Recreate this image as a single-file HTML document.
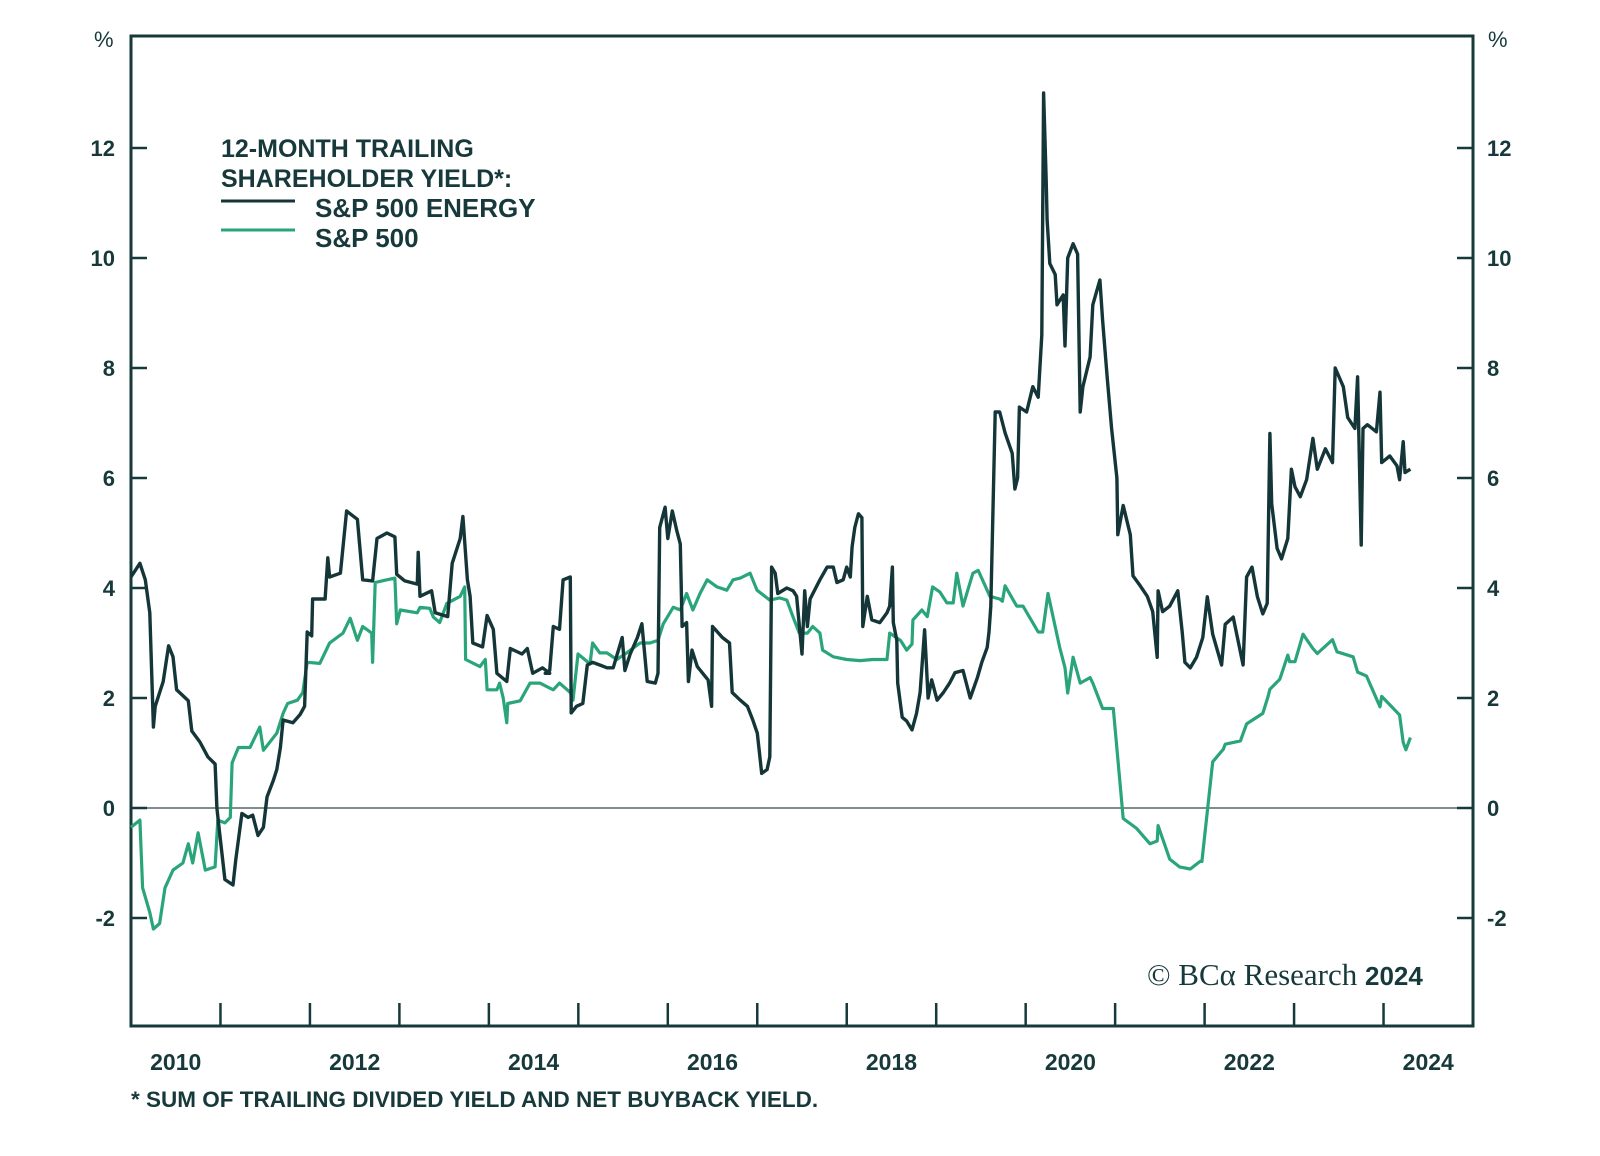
<!DOCTYPE html>
<html><head><meta charset="utf-8"><style>
html,body{margin:0;padding:0;background:#fff;}
svg{display:block;}
text{font-family:"Liberation Sans",sans-serif;fill:#17393b;}
</style></head><body>
<svg id="chart" width="1600" height="1156" viewBox="0 0 1600 1156">
<g id="axes"></g>
<g id="series"></g>
<g>
<text x="221" y="157" font-size="25" font-weight="bold">12-MONTH TRAILING</text>
<text x="221" y="187" font-size="25" font-weight="bold">SHAREHOLDER YIELD*:</text>
<line x1="221" y1="201" x2="295" y2="201" stroke="#153638" stroke-width="3"/>
<text x="315" y="217" font-size="26" font-weight="bold">S&amp;P 500 ENERGY</text>
<line x1="221" y1="230" x2="295" y2="230" stroke="#2aa57a" stroke-width="3"/>
<text x="315" y="247" font-size="26" font-weight="bold">S&amp;P 500</text>
</g>
<text x="1147" y="985" font-size="31" style="font-family:'Liberation Serif',serif">© BCα Research <tspan style="font-family:'Liberation Sans',sans-serif" font-weight="bold" font-size="26">2024</tspan></text>
<text x="131" y="1107" font-size="22.5" font-weight="bold">* SUM OF TRAILING DIVIDED YIELD AND NET BUYBACK YIELD.</text>
</svg>
<script>
const energyDates=[2010.0,2010.10,2010.16,2010.21,2010.25,2010.27,2010.36,2010.42,2010.47,2010.51,2010.64,2010.68,2010.77,2010.86,2010.94,2010.96,2010.99,2011.05,2011.14,2011.17,2011.24,2011.31,2011.36,2011.42,2011.48,2011.52,2011.59,2011.63,2011.67,2011.70,2011.81,2011.89,2011.94,2011.97,2012.02,2012.03,2012.17,2012.20,2012.22,2012.34,2012.41,2012.45,2012.53,2012.59,2012.70,2012.75,2012.86,2012.95,2012.97,2013.06,2013.20,2013.21,2013.23,2013.36,2013.40,2013.54,2013.59,2013.68,2013.71,2013.76,2013.79,2013.82,2013.93,2013.98,2014.05,2014.09,2014.20,2014.24,2014.37,2014.43,2014.49,2014.60,2014.68,2014.63,2014.68,2014.72,2014.79,2014.83,2014.91,2014.92,2014.98,2015.05,2015.10,2015.16,2015.24,2015.32,2015.39,2015.49,2015.52,2015.58,2015.66,2015.71,2015.77,2015.86,2015.89,2015.91,2015.97,2016.00,2016.05,2016.10,2016.14,2016.16,2016.21,2016.23,2016.27,2016.33,2016.39,2016.45,2016.49,2016.50,2016.61,2016.69,2016.72,2016.81,2016.89,2016.95,2017.00,2017.05,2017.11,2017.14,2017.16,2017.20,2017.23,2017.33,2017.40,2017.44,2017.50,2017.53,2017.56,2017.59,2017.70,2017.78,2017.85,2017.89,2017.96,2018.00,2018.04,2018.06,2018.09,2018.13,2018.17,2018.18,2018.23,2018.28,2018.37,2018.45,2018.48,2018.51,2018.52,2018.56,2018.57,2018.62,2018.67,2018.73,2018.78,2018.82,2018.87,2018.91,2018.95,2019.01,2019.08,2019.15,2019.21,2019.30,2019.38,2019.46,2019.51,2019.57,2019.59,2019.61,2019.66,2019.71,2019.77,2019.85,2019.88,2019.91,2019.93,2020.01,2020.08,2020.14,2020.18,2020.20,2020.23,2020.24,2020.27,2020.33,2020.35,2020.42,2020.44,2020.47,2020.53,2020.58,2020.61,2020.64,2020.72,2020.75,2020.83,2020.86,2020.91,2020.96,2021.02,2021.03,2021.09,2021.17,2021.20,2021.28,2021.36,2021.42,2021.47,2021.48,2021.53,2021.61,2021.70,2021.75,2021.78,2021.84,2021.91,2021.98,2022.03,2022.09,2022.19,2022.23,2022.32,2022.43,2022.47,2022.53,2022.59,2022.65,2022.70,2022.73,2022.75,2022.81,2022.86,2022.93,2022.97,2023.01,2023.07,2023.14,2023.21,2023.26,2023.35,2023.43,2023.46,2023.55,2023.60,2023.68,2023.71,2023.75,2023.77,2023.82,2023.92,2023.96,2023.98,2024.07,2024.15,2024.18,2024.22,2024.24,2024.30];
const energyVals=[4.2,4.45,4.15,3.55,1.47,1.85,2.3,2.95,2.75,2.15,1.95,1.4,1.2,0.93,0.8,0.0,-0.45,-1.3,-1.4,-0.95,-0.1,-0.17,-0.13,-0.5,-0.35,0.2,0.5,0.7,1.1,1.6,1.55,1.7,1.85,3.2,3.13,3.8,3.8,4.55,4.2,4.27,5.4,5.35,5.25,4.15,4.13,4.9,5.0,4.93,4.25,4.13,4.07,4.65,3.85,3.95,3.55,3.48,4.45,4.9,5.3,4.15,3.85,3.0,2.93,3.5,3.25,2.45,2.3,2.9,2.8,2.9,2.45,2.55,2.45,2.45,2.5,3.3,3.25,4.15,4.2,1.73,1.85,1.9,2.6,2.65,2.6,2.55,2.55,3.1,2.5,2.8,3.1,3.35,2.3,2.27,2.45,5.1,5.47,4.9,5.4,5.05,4.8,3.3,3.37,2.3,2.87,2.57,2.45,2.33,1.85,3.3,3.1,3.0,2.1,1.96,1.85,1.6,1.36,0.63,0.7,0.93,4.38,4.27,3.9,4.0,3.95,3.85,2.8,3.95,3.3,3.8,4.15,4.38,4.38,4.1,4.15,4.38,4.2,4.75,5.1,5.35,5.28,3.3,3.85,3.42,3.37,3.55,3.67,4.38,3.37,3.05,2.27,1.65,1.58,1.42,1.72,2.1,3.24,2.0,2.33,1.96,2.1,2.27,2.46,2.5,2.0,2.37,2.65,2.92,3.2,3.67,7.2,7.2,6.82,6.45,5.8,6.0,7.29,7.2,7.66,7.47,8.6,13.0,11.4,10.7,9.9,9.7,9.15,9.33,8.4,10.0,10.26,10.07,7.2,7.66,8.2,9.15,9.6,8.87,7.85,6.9,6.0,4.97,5.5,4.97,4.22,4.04,3.85,3.57,2.74,3.95,3.57,3.67,3.95,3.2,2.65,2.55,2.74,3.1,3.84,3.16,2.6,3.34,3.47,2.6,4.2,4.38,3.84,3.53,3.72,6.81,5.53,4.72,4.53,4.9,6.16,5.84,5.66,5.97,6.72,6.16,6.53,6.28,8.0,7.66,7.1,6.9,7.84,4.78,6.9,6.97,6.84,7.56,6.28,6.4,6.22,5.97,6.66,6.1,6.16];
const spDates=[2010.0,2010.10,2010.13,2010.21,2010.25,2010.32,2010.38,2010.47,2010.58,2010.64,2010.69,2010.75,2010.83,2010.94,2010.97,2011.05,2011.11,2011.13,2011.20,2011.33,2011.44,2011.48,2011.63,2011.70,2011.75,2011.86,2011.92,2011.97,2012.11,2012.22,2012.37,2012.45,2012.53,2012.59,2012.69,2012.70,2012.73,2012.86,2012.95,2012.97,2013.01,2013.20,2013.23,2013.34,2013.38,2013.45,2013.53,2013.68,2013.73,2013.74,2013.90,2013.96,2013.98,2014.09,2014.12,2014.16,2014.20,2014.21,2014.35,2014.46,2014.57,2014.68,2014.72,2014.79,2014.91,2014.94,2014.996,2015.13,2015.16,2015.24,2015.32,2015.43,2015.54,2015.69,2015.80,2015.89,2015.95,2016.06,2016.14,2016.21,2016.28,2016.36,2016.44,2016.55,2016.66,2016.73,2016.81,2016.92,2016.997,2017.14,2017.25,2017.33,2017.40,2017.47,2017.56,2017.62,2017.70,2017.73,2017.85,2018.00,2018.15,2018.29,2018.45,2018.48,2018.60,2018.67,2018.73,2018.74,2018.84,2018.90,2018.96,2019.04,2019.12,2019.19,2019.23,2019.30,2019.41,2019.47,2019.60,2019.71,2019.74,2019.77,2019.90,2019.97,2020.14,2020.19,2020.25,2020.38,2020.44,2020.47,2020.53,2020.61,2020.72,2020.75,2020.86,2020.97,2020.98,2021.09,2021.24,2021.39,2021.47,2021.48,2021.61,2021.72,2021.84,2021.95,2021.97,2022.09,2022.21,2022.23,2022.40,2022.47,2022.65,2022.71,2022.73,2022.84,2022.93,2022.95,2023.01,2023.10,2023.21,2023.26,2023.43,2023.48,2023.66,2023.71,2023.81,2023.96,2023.98,2024.18,2024.22,2024.25,2024.30];
const spVals=[-0.35,-0.22,-1.45,-1.9,-2.2,-2.1,-1.45,-1.13,-1.0,-0.65,-1.0,-0.45,-1.13,-1.07,-0.22,-0.27,-0.17,0.82,1.1,1.1,1.47,1.05,1.36,1.72,1.9,1.96,2.1,2.65,2.63,3.0,3.18,3.45,3.05,3.3,3.18,2.65,4.1,4.15,4.18,3.35,3.6,3.55,3.65,3.63,3.47,3.37,3.72,3.85,4.02,2.7,2.57,2.7,2.15,2.15,2.27,2.0,1.55,1.9,1.95,2.27,2.27,2.18,2.15,2.27,2.1,1.96,2.8,2.62,3.0,2.82,2.82,2.7,2.82,3.0,3.0,3.05,3.35,3.65,3.6,3.9,3.6,3.9,4.15,4.02,3.96,4.15,4.18,4.27,3.96,3.78,3.82,3.78,3.47,3.18,3.18,3.3,3.18,2.87,2.75,2.7,2.68,2.7,2.7,3.18,3.05,2.87,2.98,3.42,3.6,3.48,4.02,3.93,3.73,3.73,4.27,3.67,4.27,4.32,3.85,3.8,3.76,4.04,3.67,3.67,3.2,3.2,3.9,2.92,2.55,2.09,2.74,2.27,2.37,2.27,1.81,1.81,1.81,-0.19,-0.37,-0.65,-0.6,-0.32,-0.93,-1.07,-1.11,-0.97,-0.97,0.84,1.07,1.16,1.22,1.53,1.72,2.03,2.16,2.34,2.78,2.66,2.66,3.16,2.9,2.81,3.06,2.84,2.75,2.47,2.4,1.84,2.03,1.69,1.19,1.06,1.28,1.0,1.09];
const yTicks=[-2,0,2,4,6,8,10,12];
const xLabels=[2010,2012,2014,2016,2018,2020,2022,2024];

const L=131,R=1473,T=36,B=1026;
const X0=2010,X1=2025;
const x=d=>L+(d-X0)/(X1-X0)*(R-L);
const y=v=>808-v*55;
const NS='http://www.w3.org/2000/svg';
const axes=document.getElementById('axes');
const series=document.getElementById('series');
function mk(tag,attrs,parent){const e=document.createElementNS(NS,tag);for(const k in attrs)e.setAttribute(k,attrs[k]);parent.appendChild(e);return e;}
const C='#17393b';
const zl=mk('line',{x1:L,x2:R,y1:y(0),y2:y(0),stroke:'#7f8d8e','stroke-width':2},axes);


yTicks.forEach(v=>{
  const t1=mk('line',{x1:L,x2:L+16,y1:y(v),y2:y(v),stroke:C,'stroke-width':2.5},axes);
  
  
  const t2=mk('line',{x1:R-16,x2:R,y1:y(v),y2:y(v),stroke:C,'stroke-width':2.5},axes);
  
  
  const a=mk('text',{x:115,y:y(v)+8,'font-size':22,'font-weight':'bold','text-anchor':'end'},axes);
  a.textContent=String(v);
  
  
  const b=mk('text',{x:1487,y:y(v)+8,'font-size':22,'font-weight':'bold'},axes);
  b.textContent=String(v);
  
  
});
const p1=mk('text',{x:94,y:47,'font-size':22},axes);p1.textContent='%';


const p2=mk('text',{x:1488,y:47,'font-size':22},axes);p2.textContent='%';


for(let yr=X0+1;yr<X1;yr++){
  const t=mk('line',{x1:x(yr),x2:x(yr),y1:B,y2:B-23,stroke:C,'stroke-width':2.5},axes);
  
  
}
xLabels.forEach(yr=>{
  const t=mk('text',{x:x(yr+0.5),y:1070,'font-size':23,'font-weight':'bold','text-anchor':'middle'},axes);
  t.textContent=String(yr);
  
  
});
function line(ds,vs){return ds.map((d,i)=>x(d).toFixed(1)+','+y(vs[i]).toFixed(1)).join(' ');}
const g=mk('polyline',{points:line(spDates,spVals),fill:'none',stroke:'#2aa57a','stroke-width':3.2,'stroke-linejoin':'round'},series);


const e=mk('polyline',{points:line(energyDates,energyVals),fill:'none',stroke:'#153638','stroke-width':3.4,'stroke-linejoin':'round'},series);


const f=mk('rect',{x:L,y:T,width:R-L,height:B-T,fill:'none',stroke:C,'stroke-width':3},axes);


</script>
</body></html>
